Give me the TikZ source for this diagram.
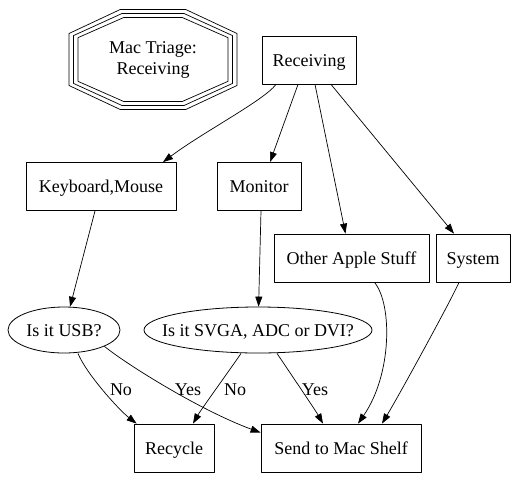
\documentclass[tikz,border=0pt]{standalone}
\usepackage{fontspec}
\setmainfont{Liberation Serif}
\usetikzlibrary{arrows.meta,shapes.geometric}
\tikzset{
  box/.style={draw,line width=0.8pt,minimum height=48pt,inner sep=0pt,text height=15pt,text depth=3pt},
  oval/.style={draw,ellipse,line width=0.8pt,inner xsep=-20pt,inner ysep=0pt,minimum height=46pt,text height=15pt,text depth=3pt},
  edge/.style={line width=0.7pt,-{Triangle[length=10pt,width=7pt]}},
  lbl/.style={inner sep=0pt},
}

\begin{document}
\begin{tikzpicture}[x=1pt,y=-1pt,line join=round,font=\fontsize{18}{21}\selectfont]
\useasboundingbox (0,0) rectangle (518,479);
% title, three octagon rings
\node[align=center] (title) at (153,59.5) {Mac Triage:\\Receiving};
\foreach \a/\b in {75/42,79.5/46,84/50}
  \draw[line width=0.7pt] ([shift={(-\a,-0.52*\b)}]title.center) -- ([shift={(-0.39*\a,-\b)}]title.center)
    -- ([shift={(0.39*\a,-\b)}]title.center) -- ([shift={(\a,-0.52*\b)}]title.center)
    -- ([shift={(\a,0.52*\b)}]title.center) -- ([shift={(0.39*\a,\b)}]title.center)
    -- ([shift={(-0.39*\a,\b)}]title.center) -- ([shift={(-\a,0.52*\b)}]title.center) -- cycle;
% nodes
\node[box,minimum width=94pt] (recv) at (309,60) {Receiving};
\node[box,minimum width=150pt] (kbd) at (101,186.5) {Keyboard,Mouse};
\node[box,minimum width=84pt] (mon) at (259,186.5) {Monitor};
\node[box,minimum width=155pt] (other) at (351.5,258) {Other Apple Stuff};
\node[box,minimum width=74pt] (sys) at (473,258) {System};
\node[oval,minimum width=112pt] (usb) at (64,330) {Is it USB?};
\node[oval,minimum width=228pt] (svga) at (258,330) {Is it SVGA, ADC or DVI?};
\node[box,minimum width=80pt] (recycle) at (174,448) {Recycle};
\node[box,minimum width=160pt] (send) at (341,448) {Send to Mac Shelf};
% edges
\draw[edge] ([xshift=-33pt]recv.south) .. controls +(-12,16) and +(40,-30) .. ([xshift=62pt]kbd.north);
\draw[edge] ([xshift=-11pt]recv.south) -- ([xshift=11pt]mon.north);
\draw[edge] ([xshift=6pt]recv.south) -- ([xshift=-6pt]other.north);
\draw[edge] ([xshift=22pt]recv.south) -- ([xshift=-19pt]sys.north);
\draw[edge] ([xshift=-6pt]kbd.south) -- (usb);
\draw[edge] ([xshift=2pt]mon.south) -- (svga);
\draw[edge] ([xshift=14pt]usb.south) .. controls +(8,20) and +(-18,-14) .. ([xshift=3pt]recycle.north west);
\draw[edge] (usb.338) .. controls +(22,18) and +(-60,-22) .. ([yshift=-9pt]send.north west);
\draw[edge] ([xshift=-17pt]svga.south) .. controls +(-8,12) and +(8,-14) .. ([xshift=19pt]recycle.north);
\draw[edge] ([xshift=19pt]svga.south) .. controls +(8,12) and +(-8,-14) .. ([xshift=-18pt]send.north);
\draw[edge] ([xshift=23pt]other.south) .. controls +(18,22) and +(34,-49) .. ([xshift=17pt]send.north);
\draw[edge] ([xshift=-14pt]sys.south) .. controls +(-8,18) and +(18,-30) .. ([xshift=41pt]send.north);
% edge labels
\node[lbl] (usbno) at (121,390) {No};
\node[lbl] (usbyes) at (188,390) {Yes};
\node[lbl] (svgano) at (235,390) {No};
\node[lbl] (svgayes) at (315,390) {Yes};
\end{tikzpicture}
\end{document}
